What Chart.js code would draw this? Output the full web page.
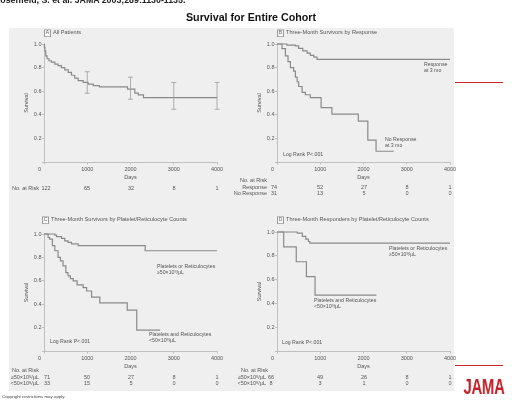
<!DOCTYPE html>
<html>
<head>
<meta charset="utf-8">
<script src="https://cdn.jsdelivr.net/npm/chart.js@4.4.1/dist/chart.umd.min.js"></script>
<style>
  html, body { margin: 0; padding: 0; background: #fff; }
  #page { position: relative; width: 516px; height: 400px; overflow: hidden; font-family: "Liberation Sans", Arial, sans-serif; color: #555; }
  .t { position: absolute; white-space: nowrap; line-height: 1; color: #555; will-change: transform; }
  canvas { position: absolute; }
  sup { font-size: 70%; vertical-align: 0.35em; line-height: 0; }
</style>
</head>
<body>
<div id="page"></div>
<script>
// ---- data ----
const dayTicks = [0, 1000, 2000, 3000, 4000];

// A  all patients
const allDays = [0, 10, 20, 40, 70, 115, 170, 250, 325, 400, 480, 560, 635, 710, 790, 905, 1020, 1140, 1280, 1930, 2100, 2180, 2300, 4000];
const allSurv = [1.0, 0.97, 0.94, 0.9, 0.875, 0.858, 0.847, 0.83, 0.816, 0.80, 0.78, 0.76, 0.735, 0.71, 0.69, 0.675, 0.66, 0.648, 0.636, 0.617, 0.583, 0.569, 0.546, 0.546];
const ciDays = [1000, 2000, 3000, 4000];
const ciLow = [0.583, 0.532, 0.447, 0.447];
const ciHigh = [0.765, 0.719, 0.674, 0.674];
const allAtRisk = [122, 65, 32, 8, 1];

// B  three-month survivors by response
const respDays = [0, 230, 425, 500, 595, 695, 770, 850, 925, 4000];
const respSurv = [1.0, 0.99, 0.984, 0.963, 0.941, 0.922, 0.904, 0.888, 0.869, 0.869];
const noRespDays = [0, 115, 195, 255, 310, 385, 425, 465, 500, 580, 655, 770, 1020, 1270, 1880, 2100, 2290, 2700];
const noRespSurv = [1.0, 0.96, 0.90, 0.85, 0.80, 0.77, 0.72, 0.68, 0.64, 0.59, 0.57, 0.545, 0.46, 0.405, 0.347, 0.185, 0.091, 0.091];
const respAtRisk = [74, 52, 27, 8, 1];
const noRespAtRisk = [31, 13, 5, 0, 0];

// C  three-month survivors by platelet/reticulocyte counts
const hiCDays = [0, 250, 290, 405, 480, 555, 635, 790, 2340, 4000];
const hiCSurv = [1.0, 0.99, 0.977, 0.962, 0.942, 0.928, 0.915, 0.90, 0.857, 0.857];
const loCDays = [0, 95, 130, 195, 250, 325, 380, 440, 505, 555, 610, 675, 765, 905, 985, 1100, 1290, 1925, 2145, 2685];
const loCSurv = [1.0, 0.97, 0.957, 0.90, 0.857, 0.80, 0.77, 0.728, 0.67, 0.642, 0.619, 0.599, 0.565, 0.541, 0.513, 0.461, 0.412, 0.35, 0.178, 0.178];
const hiCAtRisk = [71, 50, 27, 8, 1];
const loCAtRisk = [33, 15, 5, 0, 0];

// D  three-month responders by platelet/reticulocyte counts
const hiDDays = [0, 470, 585, 665, 725, 760, 4000];
const hiDSurv = [1.0, 0.99, 0.964, 0.94, 0.92, 0.907, 0.907];
const loDDays = [0, 155, 445, 680, 880, 2300];
const loDSurv = [1.0, 0.875, 0.75, 0.625, 0.469, 0.469];
const hiDAtRisk = [66, 49, 26, 8, 1];
const loDAtRisk = [8, 3, 1, 0, 0];

// ---- drawing ----
const page = document.getElementById('page');
const LINE = '#8a8a8a';
const AXIS = '#b4b4b4';
const TXT = '#555';
const FONT = '"Liberation Sans", Arial, sans-serif';
const HI = '&ge;50&times;10<sup>9</sup>/&micro;L';
const LO = '&lt;50&times;10<sup>9</sup>/&micro;L';

function box(x, y, w, h, css) {
  const el = document.createElement('div');
  el.style.cssText = `position:absolute;left:${x}px;top:${y}px;width:${w}px;height:${h}px;${css}`;
  page.appendChild(el);
  return el;
}

function text(x, y, str, opts = {}) {
  const el = document.createElement('div');
  el.className = 't';
  el.innerHTML = str;
  const tx = opts.align === 'center' ? '-50%' : opts.align === 'right' ? '-100%' : '0';
  el.style.cssText = `left:${x}px;top:${y}px;font-size:${opts.size || 5.5}px;transform:translate(${tx},-50%);` + (opts.css || '');
  page.appendChild(el);
  return el;
}

// background slide panel + decorations
box(9, 28, 445, 363, 'background:#efefef;');
box(455, 82, 48, 1.2, 'background:#cc2a2a;');
box(455, 365, 48, 1.2, 'background:#cc2a2a;');
text(-6, 0, 'Rosenfeld, S. et al. JAMA 2003;289:1130-1135.', { size: 8.8, css: 'font-weight:bold;color:#222;' });
text(251, 17, 'Survival for Entire Cohort', { size: 10.7, align: 'center', css: 'font-weight:bold;color:#111;' });
text(2, 397, 'Copyright restrictions may apply.', { size: 4.4, css: 'color:#444;' });
text(484, 387, 'JAMA', { size: 22, align: 'center', css: 'font-weight:bold;color:#c8202a;transform:translate(-50%,-50%) scaleX(0.68);letter-spacing:-0.5px;' });

// error bars for panel A, placed with the chart's own scales
const errorBars = {
  id: 'errorBars',
  afterDatasetsDraw(chart, args, opts) {
    const { ctx, scales: { x, y } } = chart;
    ctx.save();
    ctx.strokeStyle = '#9c9c9c';
    ctx.lineWidth = 0.8;
    opts.days.forEach((d, i) => {
      const px = x.getPixelForValue(d);
      const lo = y.getPixelForValue(opts.low[i]);
      const hi = y.getPixelForValue(opts.high[i]);
      ctx.beginPath();
      ctx.moveTo(px, lo); ctx.lineTo(px, hi);
      ctx.moveTo(px - 2.5, lo); ctx.lineTo(px + 2.5, lo);
      ctx.moveTo(px - 2.5, hi); ctx.lineTo(px + 2.5, hi);
      ctx.stroke();
    });
    ctx.restore();
  }
};

function km(days, surv) {
  return {
    data: days.map((d, i) => ({ x: d, y: surv[i] })),
    stepped: true,
    borderColor: LINE,
    borderWidth: 1.2,
    pointRadius: 0,
    fill: false,
    clip: false
  };
}

const PAD_L = 36, PAD_T = 8, PAD_R = 14, PAD_B = 22;

function panel(area, datasets, extraPlugins = [], pluginOpts = {}) {
  const w = area.right - area.left + PAD_L + PAD_R;
  const h = area.bottom - area.top + PAD_T + PAD_B;
  const canvas = document.createElement('canvas');
  canvas.width = w; canvas.height = h;
  const left = area.left - PAD_L, top = area.top - PAD_T;
  canvas.style.cssText = `left:${left}px;top:${top}px;width:${w}px;height:${h}px;`;
  page.appendChild(canvas);
  const chart = new Chart(canvas, {
    type: 'line',
    data: { datasets },
    plugins: extraPlugins,
    options: {
      responsive: false,
      animation: false,
      events: [],
      layout: { padding: { left: 0, top: PAD_T, right: PAD_R, bottom: 0 } },
      plugins: Object.assign({ legend: { display: false }, tooltip: { enabled: false } }, pluginOpts),
      scales: {
        x: {
          type: 'linear', min: 0, max: 4000,
          afterFit: s => { s.height = PAD_B; },
          border: { display: true, color: AXIS, width: 0.8 },
          grid: { display: true, drawOnChartArea: false, drawTicks: true, tickLength: 2.5, color: AXIS, lineWidth: 0.8 },
          // the origin label sits a little left of the axis in the source
          ticks: { stepSize: 1000, padding: 1.8, maxRotation: 0, color: TXT, font: { family: FONT, size: 5.5 },
                   callback: v => (v === 0 ? '0      ' : String(v)) },
          title: { display: true, text: 'Days', color: TXT, font: { family: FONT, size: 5.5 }, padding: { top: 0, bottom: 3.2 } }
        },
        y: {
          min: 0, max: 1,
          afterFit: s => { s.width = PAD_L; },
          border: { display: true, color: AXIS, width: 0.8 },
          grid: { display: true, drawOnChartArea: false, drawTicks: true, tickLength: 2, color: AXIS, lineWidth: 0.8 },
          ticks: { stepSize: 0.2, padding: 0.5, color: TXT, font: { family: FONT, size: 5.5 },
                   callback: v => (v < 0.01 ? '' : v.toFixed(1)) },
          title: { display: true, text: 'Survival', color: TXT, font: { family: FONT, size: 5.5 }, padding: { top: 15, bottom: 0 } }
        }
      }
    }
  });
  return { chart, left, top };
}

function panelLabel(x, y, letter, title) {
  text(x, y, letter, { size: 5, css: 'width:5px;height:5.5px;line-height:5.5px;text-align:center;border:0.6px solid #9a9a9a;background:#f9f9f9;color:#666;' });
  text(x + 9, y + 0.3, title, { size: 5.6 });
}

function atRisk(p, rows, header, labelRight, firstShift) {
  const xs = dayTicks.map(d => p.left + p.chart.scales.x.getPixelForValue(d));
  if (header) text(header.x, header.y, 'No. at Risk');
  rows.forEach(r => {
    text(labelRight, r.y, r.label, { align: 'right' });
    r.values.forEach((v, i) => text(xs[i] + (i === 0 ? firstShift : 0), r.y, String(v), { align: 'center' }));
  });
}

// A
const pA = panel({ left: 44, top: 44, right: 217, bottom: 162 }, [km(allDays, allSurv)], [errorBars],
  { errorBars: { days: ciDays, low: ciLow, high: ciHigh } });
panelLabel(44, 33, 'A', 'All Patients');
atRisk(pA, [{ label: 'No. at Risk', values: allAtRisk, y: 188.5 }], null, 38.5, 2);

// B
const pB = panel({ left: 277, top: 44, right: 450, bottom: 162 }, [km(respDays, respSurv), km(noRespDays, noRespSurv)]);
panelLabel(277, 33, 'B', 'Three-Month Survivors by Response');
text(424, 64.5, 'Response', { size: 5.2 });
text(424, 70.5, 'at 3 mo', { size: 5.2 });
text(385, 140, 'No Response', { size: 5.2 });
text(385, 146, 'at 3 mo', { size: 5.2 });
text(283, 155, 'Log Rank P&lt;.001', { size: 5.2 });
atRisk(pB, [
  { label: 'Response', values: respAtRisk, y: 187.5 },
  { label: 'No Response', values: noRespAtRisk, y: 193.5 }
], { x: 240, y: 181 }, 267, -3);

// C
const pC = panel({ left: 44, top: 234, right: 217, bottom: 351 }, [km(hiCDays, hiCSurv), km(loCDays, loCSurv)]);
panelLabel(42, 220, 'C', 'Three-Month Survivors by Platelet/Reticulocyte Counts');
text(157, 267, 'Platelets or Reticulocytes', { size: 5.2 });
text(157, 273, HI, { size: 5.2 });
text(148.5, 334.5, 'Platelets and Reticulocytes', { size: 5.2 });
text(148.5, 340.5, LO, { size: 5.2 });
text(50, 342, 'Log Rank P&lt;.001', { size: 5.2 });
atRisk(pC, [
  { label: HI, values: hiCAtRisk, y: 377.5 },
  { label: LO, values: loCAtRisk, y: 383.5 }
], { x: 12, y: 371 }, 39, 3);

// D
const pD = panel({ left: 277, top: 232, right: 450, bottom: 351 }, [km(hiDDays, hiDSurv), km(loDDays, loDSurv)]);
panelLabel(277, 220, 'D', 'Three-Month Responders by Platelet/Reticulocyte Counts');
text(389, 248.5, 'Platelets or Reticulocytes', { size: 5.2 });
text(389, 254.5, HI, { size: 5.2 });
text(314, 301, 'Platelets and Reticulocytes', { size: 5.2 });
text(314, 307, LO, { size: 5.2 });
text(282, 342.5, 'Log Rank P&lt;.001', { size: 5.2 });
atRisk(pD, [
  { label: HI, values: hiDAtRisk, y: 377.5 },
  { label: LO, values: loDAtRisk, y: 383.5 }
], { x: 241, y: 371 }, 266, -6);
</script>
</body>
</html>
